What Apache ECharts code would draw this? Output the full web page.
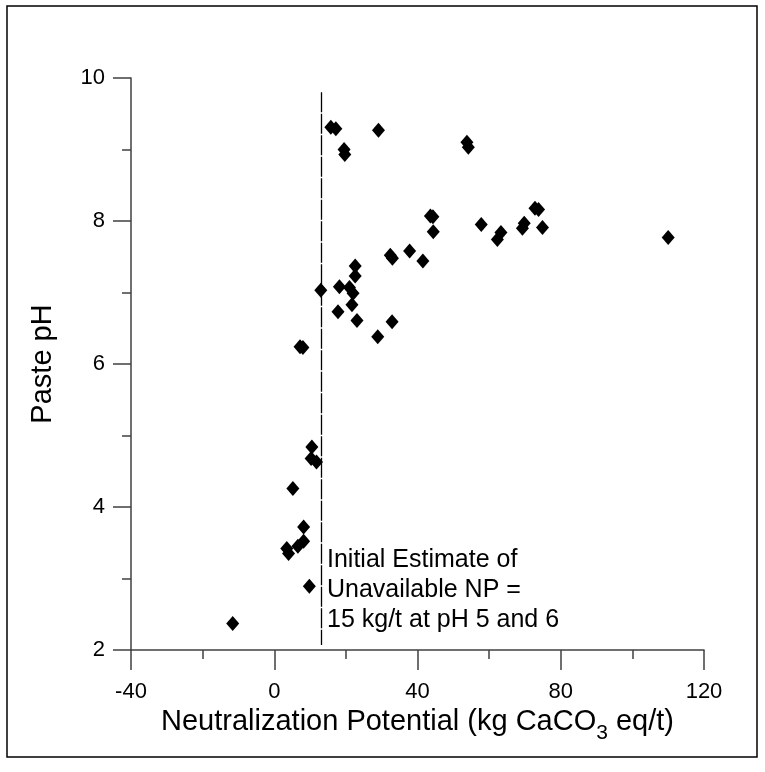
<!DOCTYPE html>
<html>
<head>
<meta charset="utf-8">
<script src="https://cdn.jsdelivr.net/npm/echarts@6/dist/echarts.min.js"></script>
<style>
html,body{margin:0;padding:0;background:#fff;}
#chart{width:765px;height:772px;}
</style>
</head>
<body>
<div id="chart"></div>
<script>
// neutralization potential (kg CaCO3 eq/t) and paste pH
var npValues = [15.8, 17.2, 29.1, 19.5, 19.7, 53.8, 54.2, 43.6, 44.3, 44.4,
    72.8, 73.8, 57.8, 62.3, 63.3, 69.3, 69.8, 74.9, 110.0, 37.8,
    41.5, 32.4, 33.0, 22.6, 22.6, 13.0, 18.2, 21.0, 22.0, 21.7,
    17.8, 23.1, 32.9, 28.9, 7.2, 8.0, 10.5, 10.3, 11.8, 5.2,
    8.2, 8.2, 6.6, 3.5, 4.0, 9.8, -11.6];
var phValues = [9.31, 9.29, 9.27, 9.00, 8.93, 9.10, 9.03, 8.07, 8.06, 7.85,
    8.18, 8.16, 7.95, 7.74, 7.84, 7.90, 7.97, 7.91, 7.77, 7.58,
    7.44, 7.52, 7.48, 7.37, 7.23, 7.03, 7.08, 7.07, 6.99, 6.83,
    6.73, 6.61, 6.59, 6.38, 6.24, 6.23, 4.84, 4.68, 4.63, 4.26,
    3.72, 3.52, 3.45, 3.42, 3.35, 2.89, 2.37];
// vertical reference line (unavailable NP)
var refLineX = [13, 13];
var refLineY = [9.8, 2.07];
var noteLines = ['Initial Estimate of', 'Unavailable NP =', '15 kg/t at pH 5 and 6'];

var points = [];
for (var i = 0; i < npValues.length; i++) {
    points.push([npValues[i], phValues[i]]);
}

var axisGray = '#404040';
var chart = echarts.init(document.getElementById('chart'));
var option = {
    backgroundColor: '#fff',
    animation: false,
    textStyle: { fontFamily: 'Liberation Sans, Arial, sans-serif' },
    grid: { left: 131, right: 61, top: 78, bottom: 122 },
    xAxis: {
        type: 'value',
        min: -40,
        max: 120,
        interval: 40,
        name: '{m|Neutralization Potential (kg CaCO}{s|3}{m| eq/t)}',
        nameLocation: 'middle',
        nameGap: 50,
        nameTextStyle: {
            rich: {
                m: { fontSize: 29, color: '#000', lineHeight: 42, fontFamily: 'Liberation Sans' },
                s: { fontSize: 21, color: '#000', lineHeight: 21, verticalAlign: 'bottom', fontFamily: 'Liberation Sans' }
            }
        },
        axisLine: { onZero: false, lineStyle: { color: axisGray, width: 1.5 } },
        axisTick: { length: 20, lineStyle: { color: axisGray, width: 1.5 } },
        minorTick: { show: true, splitNumber: 2, length: 9, lineStyle: { color: axisGray, width: 1.5 } },
        axisLabel: { fontSize: 22, color: '#000', margin: 31 },
        splitLine: { show: false }
    },
    yAxis: {
        type: 'value',
        min: 2,
        max: 10,
        interval: 2,
        name: 'Paste pH',
        nameLocation: 'middle',
        nameGap: 74,
        nameTextStyle: { fontSize: 29, color: '#000' },
        axisLine: { onZero: false, lineStyle: { color: axisGray, width: 1.5 } },
        axisTick: { length: 18, lineStyle: { color: axisGray, width: 1.5 } },
        minorTick: { show: true, splitNumber: 2, length: 9, lineStyle: { color: axisGray, width: 1.5 } },
        axisLabel: { fontSize: 22, color: '#000', margin: 26 },
        splitLine: { show: false }
    },
    series: [{
        type: 'scatter',
        symbol: 'diamond',
        symbolSize: [13, 15],
        itemStyle: { color: '#000', opacity: 1 },
        data: points,
        markLine: {
            silent: true,
            symbol: 'none',
            label: { show: false },
            lineStyle: { color: '#000', width: 1.3, type: [20, 1.5], opacity: 1 },
            data: [[
                { coord: [refLineX[0], refLineY[0]] },
                { coord: [refLineX[1], refLineY[1]] }
            ]]
        }
    }],
    graphic: [{
        type: 'rect',
        shape: { x: 7, y: 6, width: 750, height: 751 },
        style: { fill: 'none', stroke: '#000', lineWidth: 1.5 },
        silent: true
    }, {
        type: 'text',
        left: 327,
        top: 545,
        style: {
            text: noteLines.join('\n'),
            font: '25px Liberation Sans',
            lineHeight: 30,
            fill: '#000'
        }
    }]
};
chart.setOption(option);
</script>
</body>
</html>
